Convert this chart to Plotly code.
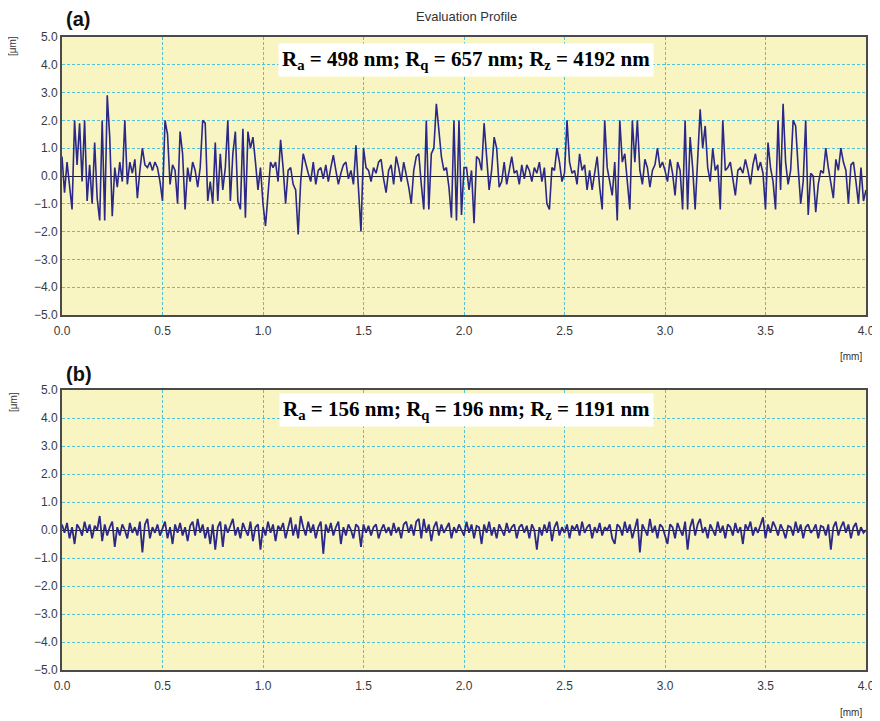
import plotly.graph_objects as go

# ---------------- data ----------------
x_step_mm = 0.0125  # sampling step of the profiles (mm)

profile_a = [
    0.7, -0.6, 0.5, -0.3, -1.2, 2.0, 0.4, 1.9, -0.2, 2.0,
    -0.9, 0.4, -1.0, 1.2, -0.8, -1.6, 2.0, -1.6, 2.9, 1.4,
    -1.45, 0.3, -0.4, 0.5, -0.2, 2.0, -0.3, 0.5, 0.1, 0.6,
    -0.8, 0.2, 1.0, 0.4, 0.3, 0.5, 0.2, 0.5, 0.3, -0.2,
    -0.9, 2.0, 1.5, -0.3, 0.4, 0.2, -1.0, 1.6, 0.8, -1.2,
    0.3, -0.2, 0.5, 0.2, -0.4, 0.3, 2.0, 1.9, -0.9, -0.2,
    -1.0, 1.2, -0.9, 0.8, -0.5, 0.3, 2.0, -0.9, 0.8, 1.6,
    -0.9, -1.2, 1.7, -1.5, 1.6, 1.0, 1.4, 0.5, -0.5, 0.3,
    -1.0, -1.8, -0.5, 0.5, 0.3, 0.5, -0.2, 1.3, 0.3, -1.0,
    0.2, 0.3, -0.3, -0.5, -2.1, -0.2, 0.8, 0.4, 0.1, -0.2,
    0.5, -0.3, 0.2, 0.3, -0.1, 0.4, -0.2, 0.3, 0.75, 0.2,
    -0.3, 0.1, 0.4, 0.5, -0.1, 0.2, -0.3, 1.1, -0.6, -2.0,
    1.0, 0.3, 0.2, -0.2, 0.3, 0.1, 0.5, 0.6, -0.1, -0.6,
    0.2, 0.4, -0.3, 0.7, 0.3, -0.2, 0.5, 0.1, -0.4, -1.0,
    0.2, 0.7, 0.8, -0.3, -1.2, 2.0, -1.2, 0.8, 1.0, 2.6,
    1.5, 0.7, 0.2, 0.3, -0.4, -1.5, 2.0, -1.6, 2.0, -1.4,
    0.3, 0.3, -0.5, 0.2, -1.7, 0.7, 0.6, 0.2, 1.9, 0.5,
    -0.5, 0.2, 1.4, 1.0, -0.4, -0.2, 0.5, -0.3, 0.2, 0.7,
    0.1, 0.2, -0.3, 0.4, -0.1, 0.4, 0.2, -0.2, 0.3, 0.1,
    0.5, -0.2, 0.3, -1.0, -1.2, 0.3, 0.2, 1.0, 0.5, -0.2,
    0.1, 2.0, 0.5, 0.1, 0.2, -0.3, 0.8, 0.2, 0.4, -0.5,
    0.2, -0.5, 0.1, 0.7, -0.4, -1.2, 2.0, 0.3, -0.2, -0.7,
    0.5, -1.6, 2.0, 0.5, 0.8, -0.2, -1.2, 2.0, 0.5, 2.0,
    0.2, -0.3, 0.6, 0.3, -0.4, 0.2, 0.4, 1.0, 0.3, 0.5,
    0.2, -0.2, 0.6, 0.1, -0.7, 0.5, 0.2, -1.2, 2.0, -1.2,
    1.4, 0.3, -1.2, 0.6, 2.4, 1.0, 1.8, 0.3, -0.2, 1.0,
    0.2, 0.4, -1.2, 2.0, 0.2, 0.3, 0.5, -0.1, -0.7, 0.2,
    0.3, 0.1, 0.6, 0.2, -0.3, 0.4, 0.8, 0.2, 0.5, 0.1,
    -1.2, 1.2, 0.3, -0.2, -1.2, 2.0, -0.5, 2.6, 0.5, -0.3,
    0.2, 2.0, 1.8, 0.3, -1.0, -0.2, 2.0, -1.4, 0.1, 0.0,
    -1.3, -0.3, 0.2, 0.1, 1.0, 0.3, -0.3, -0.8, 0.6, 0.2,
    1.0, 0.5, 0.2, -1.0, 0.4, 0.5, -0.2, -1.0, 0.3, -0.9,
    -0.5,
]

profile_b = [
    0.2, -0.1, 0.25, -0.3, 0.1, -0.5, 0.2, 0.05, -0.2, 0.3,
    -0.1, 0.2, -0.3, 0.15, 0.0, 0.5, -0.4, 0.2, -0.2, 0.1,
    0.3, -0.6, 0.1, -0.2, 0.2, 0.0, -0.3, 0.25, -0.1, 0.1,
    -0.2, 0.3, -0.8, 0.2, 0.4, -0.3, 0.1, -0.1, 0.2, -0.2,
    0.05, 0.3, -0.3, 0.1, -0.5, 0.2, -0.1, 0.25, -0.2, 0.1,
    -0.4, 0.15, 0.3, -0.2, 0.4, -0.1, 0.2, -0.3, 0.1, -0.5,
    0.2, -0.7, 0.1, 0.3, -0.6, 0.2, -0.1, 0.15, 0.4, -0.2,
    0.1, -0.3, 0.25, 0.0, -0.2, 0.3, -0.4, 0.1, 0.2, -0.7,
    0.1, -0.2, 0.3, -0.1, 0.2, -0.4, 0.15, 0.0, 0.25, -0.3,
    0.1, 0.45, -0.2, 0.2, -0.3, 0.5, 0.1, -0.2, 0.3, -0.1,
    0.2, -0.3, 0.1, 0.3, -0.85, 0.2, -0.1, 0.25, -0.2, 0.1,
    0.3, -0.5, 0.1, -0.2, 0.2, 0.0, -0.3, 0.2, 0.1, -0.6,
    0.2, -0.1, 0.15, -0.2, 0.1, 0.2, -0.3, 0.0, 0.2, -0.1,
    0.1, -0.2, 0.25, -0.1, 0.1, -0.3, 0.2, 0.3, -0.1, 0.2,
    -0.2, 0.3, 0.4, -0.3, 0.4, -0.1, 0.2, -0.4, 0.1, 0.3,
    -0.2, 0.2, -0.1, 0.1, 0.25, -0.3, 0.1, -0.1, 0.2, 0.0,
    -0.2, 0.3, -0.1, 0.2, -0.3, 0.15, 0.1, -0.5, 0.2, -0.1,
    0.3, -0.2, 0.1, -0.3, 0.2, 0.0, -0.2, 0.25, -0.1, 0.1,
    0.2, -0.3, 0.1, 0.2, -0.1, 0.15, -0.3, 0.2, 0.0, -0.7,
    0.1, -0.2, 0.2, -0.1, 0.3, -0.4, 0.1, 0.3, -0.2, 0.1,
    -0.1, 0.2, -0.3, 0.15, 0.0, 0.2, -0.2, 0.3, -0.1, 0.1,
    0.2, -0.3, 0.1, -0.1, 0.25, -0.2, 0.1, 0.0, 0.2, -0.3,
    -0.5, 0.2, 0.1, -0.2, 0.3, -0.1, 0.2, -0.3, 0.1, 0.4,
    -0.8, 0.2, 0.0, -0.2, 0.4, -0.1, 0.15, -0.3, 0.2, 0.1,
    -0.2, -0.5, 0.2, 0.1, -0.3, 0.25, 0.0, -0.2, 0.3, -0.7,
    0.1, 0.4, -0.2, 0.2, 0.4, -0.1, 0.1, -0.3, 0.2, 0.0,
    -0.2, 0.3, -0.1, 0.15, -0.3, 0.2, 0.1, -0.2, 0.25, -0.1,
    0.1, -0.5, 0.2, 0.0, 0.3, -0.2, 0.1, -0.1, 0.2, 0.45,
    -0.3, 0.2, -0.1, 0.3, 0.1, -0.2, 0.2, 0.0, -0.3, 0.15,
    0.1, -0.2, 0.3, -0.1, 0.2, -0.3, 0.1, 0.2, -0.1, 0.0,
    0.2, -0.3, 0.15, 0.1, -0.2, 0.2, -0.7, 0.1, 0.3, -0.2,
    0.1, 0.3, -0.1, 0.2, -0.3, 0.1, 0.25, -0.2, 0.1, -0.1,
    0.0,
]

x_a = [round(i * x_step_mm, 5) for i in range(len(profile_a))]
x_b = [round(i * x_step_mm, 5) for i in range(len(profile_b))]

roughness_a = {"Ra": 498, "Rq": 657, "Rz": 4192}
roughness_b = {"Ra": 156, "Rq": 196, "Rz": 1191}

panel_labels = ["(a)", "(b)"]
title_text = "Evaluation Profile"
y_unit = "[μm]"
x_unit = "[mm]"

# ---------------- figure ----------------
W, H = 880, 721
OFF = 8  # page body margin offset (px)
line_color = "#2B2888"
bg_yellow = "#F8F5C3"
grid_color = "#52C3D6"
frame_color = "#4A4A4A"
tick_font = dict(family="Arial, Liberation Sans, sans-serif", size=12, color="#3A3A3A")


def px_x(p):
    return (p - OFF) / W


def px_y(p):
    return 1 - (p - OFF) / H


xdom = [px_x(62), px_x(866)]
ydom_a = [px_y(315), px_y(37)]
ydom_b = [px_y(670), px_y(390)]

fig = go.Figure()
fig.add_trace(go.Scatter(x=x_a, y=profile_a, mode="lines",
                         line=dict(color=line_color, width=1.6),
                         xaxis="x", yaxis="y", showlegend=False, hoverinfo="skip"))
fig.add_trace(go.Scatter(x=x_b, y=profile_b, mode="lines",
                         line=dict(color=line_color, width=1.8),
                         xaxis="x2", yaxis="y2", showlegend=False, hoverinfo="skip"))


def xaxis_cfg(anchor):
    return dict(domain=xdom, anchor=anchor, range=[0, 4], dtick=0.5, tick0=0,
                tickformat=".1f", showgrid=True, gridcolor=grid_color, gridwidth=1,
                griddash="3px,2px", showline=True, linecolor=frame_color, linewidth=2,
                mirror=True, zeroline=False, ticks="", tickfont=tick_font,
                ticklabelstandoff=4, automargin=False, fixedrange=True)


def yaxis_cfg(anchor, dom):
    return dict(domain=dom, anchor=anchor, range=[-5, 5], dtick=1, tick0=0,
                tickformat=".1f", showgrid=True, gridcolor=grid_color, gridwidth=1,
                griddash="3px,2px", showline=True, linecolor=frame_color, linewidth=2,
                mirror=True, zeroline=True, zerolinecolor="#222222", zerolinewidth=1,
                ticks="", tickfont=tick_font, automargin=False, fixedrange=True)


fig.update_layout(
    width=W, height=H,
    margin=dict(l=0, r=0, t=0, b=0),
    paper_bgcolor="white",
    plot_bgcolor=bg_yellow,
    xaxis=xaxis_cfg("y"),
    yaxis=yaxis_cfg("x", ydom_a),
    xaxis2=xaxis_cfg("y2"),
    yaxis2=yaxis_cfg("x2", ydom_b),
)


def rough_text(r):
    return ("<b>R<sub>a</sub> = %d nm; R<sub>q</sub> = %d nm; R<sub>z</sub> = %d nm</b>"
            % (r["Ra"], r["Rq"], r["Rz"]))


serif = dict(family="Liberation Serif, Times New Roman, serif", size=21, color="black")
sans = "Arial, Liberation Sans, sans-serif"
ann = []
for lab, ypx in zip(panel_labels, [19, 374]):
    ann.append(dict(text="<b>%s</b>" % lab, x=px_x(64), y=px_y(ypx), xref="paper", yref="paper",
                    xanchor="left", yanchor="middle", showarrow=False,
                    font=dict(family=sans, size=20, color="#111")))
ann.append(dict(text=title_text, x=px_x(466), y=px_y(17), xref="paper", yref="paper",
                xanchor="center", yanchor="middle", showarrow=False,
                font=dict(family=sans, size=13, color="#333")))
for ypx in [46, 402]:
    ann.append(dict(text=y_unit, x=px_x(13), y=px_y(ypx), xref="paper", yref="paper",
                    xanchor="center", yanchor="middle", showarrow=False, textangle=-90,
                    font=dict(family=sans, size=10, color="#333")))
for ypx in [356, 712]:
    ann.append(dict(text=x_unit, x=px_x(851), y=px_y(ypx), xref="paper", yref="paper",
                    xanchor="center", yanchor="middle", showarrow=False,
                    font=dict(family=sans, size=10, color="#333")))
for r, ypx in [(roughness_a, 60), (roughness_b, 410)]:
    ann.append(dict(text=rough_text(r), x=px_x(466), y=px_y(ypx), xref="paper", yref="paper",
                    xanchor="center", yanchor="middle", showarrow=False,
                    bgcolor="white", borderpad=3, font=serif))
fig.update_layout(annotations=ann)

fig.write_html("out.html")
